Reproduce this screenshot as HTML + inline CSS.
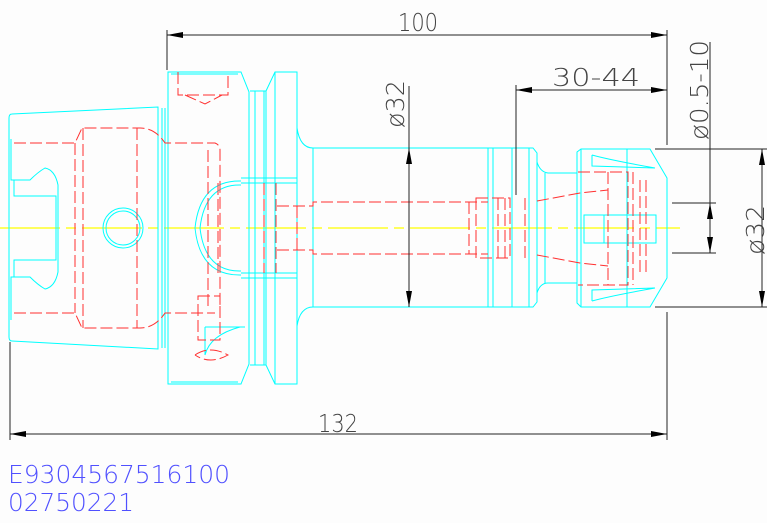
<!DOCTYPE html>
<html><head><meta charset="utf-8"><style>
html,body{margin:0;padding:0;background:#fdfdfd;}
svg{display:block;}
text{font-family:"DejaVu Sans","Liberation Sans",sans-serif;font-weight:200;}
</style></head><body>
<svg width="767" height="523" viewBox="0 0 767 523" xmlns="http://www.w3.org/2000/svg">
<rect width="767" height="523" fill="#fdfdfd"/>
<line x1="0" y1="228" x2="680" y2="228" stroke="#ffff00" stroke-width="1.2" stroke-dasharray="60,6,10,6"/>
<g fill="none" stroke="#00ffff" stroke-width="1">
<path d="M12,114 L158,107 L158,349 L12,341 Q9,341 9,337 L9,118 Q9,114 12,114Z"/>
<path d="M11,139 L11,180 L30,180 Q38,172 45,168 Q55,170 58,185 L58,272 Q55,287 45,289 Q38,285 30,277 L11,277 L11,320"/>
<path d="M14,180 L14,196 L56,196 L56,260 L14,260 L14,277"/>
<line x1="162" y1="108" x2="162" y2="348"/><line x1="165" y1="108" x2="165" y2="348"/>
<circle cx="123" cy="228" r="20"/><circle cx="123" cy="228" r="17"/>
<path d="M168,72 L241,72 L249,92 L249,364 L241,384 L168,384Z"/>
<path d="M171,74 L238,74 M171,382 L238,382"/>
<path d="M250,91 L266,91 M250,365 L266,365 M255,91 L255,365 M264,91 L264,365"/>
<path d="M266,91 L275,72 L297,72 L297,384 L275,384 L266,365Z"/>
<path d="M275,72 L275,384"/>
<path d="M241,181 Q200,180 195,228 Q200,276 241,275"/>
<path d="M241,185 Q205,184 200,228 Q205,272 241,271"/>
<path d="M241,178 L297,178 M241,183 L297,183 M241,273 L297,273 M241,278 L297,278"/>
<path d="M205,327 L245,327 M205,355 Q210,335 240,327 M205,327 L205,355"/>
<path d="M297,128 Q300,148 313,148 L488,148 L488,307 L313,307 Q300,307 297,326"/>
<path d="M313,148 L313,307"/>
<path d="M488,148 L533,148 L537,153 L537,302 L533,307 L488,307 M493,148 L493,307 M512,148 L512,307 M529,148 L529,307"/>
<path d="M537,162 Q540,172 548,173 L577,173 M537,293 Q540,283 548,283 L577,283 M545,173 L545,283"/>
<path d="M577,152 L581,149 L650,149 L667,178 L667,278 L650,307 L581,307 L577,303Z"/>
<path d="M581,149 L581,307 M627,149 L627,307"/>
<path d="M592,155 Q610,160 655,168 M592,155 L592,166 L655,168"/>
<path d="M592,301 Q610,296 655,288 M592,301 L592,290 L655,288"/>
<path d="M584,215 L656,215 L656,243 L584,243Z M604,215 L604,243"/>
</g>
<g fill="none" stroke="#ff3030" stroke-width="1" stroke-dasharray="12,4">
<path d="M14,143 L75,143 L82,128 L140,128 Q155,128 165,143 L215,143 Q220,145 220,150 L220,306 M14,313 L75,313 L82,328 L140,328 Q155,328 165,313 L215,313"/>
<path d="M75,143 L75,313 M83,128 L83,328 M137,128 L137,328 M208,150 L208,306"/>
<path d="M178,72 L178,95 L228,95 L228,72 M185,95 L205,104 L222,95"/>
<path d="M218,183 L218,273 M264,183 L264,273 M276,183 L276,273"/>
<path d="M277,206 L313,206 L313,202 L488,202 M277,250 L313,250 L313,254 L488,254 M297,206 L297,250"/>
<path d="M469,202 L469,254 M476,198 L510,198 L510,258 L476,258 Z M498,198 L498,258 M505,198 L505,258"/>
<path d="M537,201 L580,193 L608,190 M537,255 L580,263 L608,266 M525,198 L525,258"/>
<path d="M578,172 L628,172 L628,285 L578,285 M608,172 L608,285 M633,172 L633,285 M640,180 L640,276 M646,180 L646,276"/>
<path d="M198,296 L220,296 L220,340 L198,340Z M195,355 Q210,345 228,355 Q210,365 195,355"/>
</g>
<g stroke="#222" stroke-width="1" fill="none">
<line x1="167" y1="30" x2="167" y2="70"/><line x1="667" y1="30" x2="667" y2="145"/><line x1="667" y1="312" x2="667" y2="440"/>
<line x1="167" y1="35" x2="667" y2="35"/>
<line x1="10" y1="342" x2="10" y2="440"/><line x1="10" y1="434" x2="667" y2="434"/>
<line x1="516" y1="85" x2="516" y2="195"/><line x1="516" y1="90" x2="667" y2="90"/>
<line x1="409" y1="86" x2="409" y2="307"/>
<line x1="710" y1="42" x2="710" y2="253"/>
<line x1="672" y1="203" x2="716" y2="203"/><line x1="672" y1="253" x2="716" y2="253"/>
<line x1="655" y1="149" x2="767" y2="149"/><line x1="655" y1="307" x2="767" y2="307"/>
<line x1="762" y1="149" x2="762" y2="307"/>
</g>
<g fill="#000">
<path d="M167,35 l16,-3 l0,6z"/><path d="M667,35 l-16,-3 l0,6z"/>
<path d="M10,434 l16,-3 l0,6z"/><path d="M667,434 l-16,-3 l0,6z"/>
<path d="M516,90 l16,-3 l0,6z"/><path d="M667,90 l-16,-3 l0,6z"/>
<path d="M409,148 l-3,16 l6,0z"/><path d="M409,307 l-3,-16 l6,0z"/>
<path d="M710,203 l-3,16 l6,0z"/><path d="M710,253 l-3,-16 l6,0z"/>
<path d="M762,149 l-3,16 l6,0z"/><path d="M762,307 l-3,-16 l6,0z"/>
</g>
<g fill="#444" font-size="25">
<text x="398" y="31" textLength="40" lengthAdjust="spacingAndGlyphs">100</text>
<text x="318" y="432" textLength="40" lengthAdjust="spacingAndGlyphs">132</text>
<text x="552" y="86" textLength="88" lengthAdjust="spacingAndGlyphs">30-44</text>
<text transform="translate(404,128) rotate(-90)" textLength="48" lengthAdjust="spacingAndGlyphs">ø32</text>
<text transform="translate(708,140) rotate(-90)" textLength="100" lengthAdjust="spacingAndGlyphs">ø0.5-10</text>
<text transform="translate(764,255) rotate(-90)" textLength="50" lengthAdjust="spacingAndGlyphs">ø32</text>
</g>
<g fill="#5050ff" font-size="25">
<text x="8" y="483" textLength="222" lengthAdjust="spacingAndGlyphs">E9304567516100</text>
<text x="8" y="511" textLength="126" lengthAdjust="spacingAndGlyphs">02750221</text>
</g>
</svg>
</body></html>
